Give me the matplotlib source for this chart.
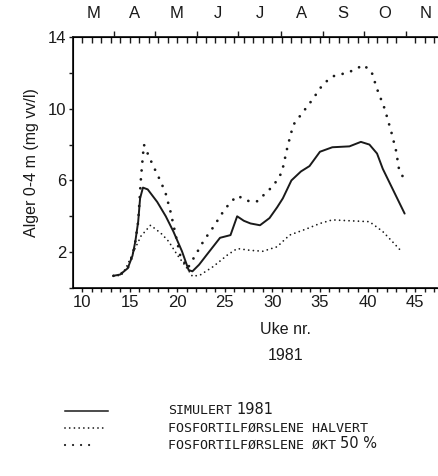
import matplotlib
matplotlib.use("Agg")
import matplotlib.pyplot as plt
import numpy as np

# ---- data ----
weeks_sim = [13.3, 14.0, 14.8, 15.3, 15.6, 15.9, 16.1, 16.4, 16.9, 17.9, 18.8, 19.6, 20.5, 21.2, 21.6,
             22.3, 23.1, 24.5, 25.6, 26.3, 27.0, 27.7, 28.7, 29.7, 30.5, 31.1, 32.0, 33.0, 33.9,
             35.0, 36.3, 38.1, 39.3, 40.2, 41.0, 41.6, 43.9]
sim = [0.68, 0.75, 1.1, 1.8, 2.6, 3.7, 5.0, 5.6, 5.5, 4.8, 4.0, 3.15, 2.05, 1.0, 0.93,
       1.3, 1.85, 2.8, 2.95, 4.0, 3.75, 3.6, 3.5, 3.9, 4.5, 5.0, 6.0, 6.5, 6.8,
       7.6, 7.85, 7.9, 8.15, 8.0, 7.5, 6.65, 4.15]

weeks_up = [13.3, 14.0, 14.8, 15.3, 15.6, 15.9, 16.2, 16.5, 16.9, 17.4, 18.3, 18.8, 19.3, 19.8,
            20.3, 21.1, 22.1, 22.8, 23.8, 24.7, 25.6, 26.4, 27.1, 28.0, 28.5, 29.2, 30.1,
            31.0, 31.6, 32.2, 33.2, 34.2, 35.3, 36.3, 37.8, 38.8, 39.5, 40.4, 41.0, 41.8,
            42.5, 43.0, 43.3, 43.9]
up = [0.68, 0.75, 1.1, 1.8, 2.6, 3.7, 6.2, 8.0, 7.5, 6.9, 5.9, 5.25, 4.25, 3.05,
      1.85, 1.1, 2.0, 2.65, 3.4, 4.15, 4.8, 5.15, 4.9, 4.8, 4.85, 5.25, 5.7,
      6.45, 7.9, 9.1, 9.8, 10.5, 11.35, 11.8, 12.0, 12.2, 12.45, 12.1, 11.1, 10.0,
      8.7, 7.65, 6.65, 6.0]

weeks_lo = [13.3, 14.1, 14.6, 15.3, 16.2, 17.2, 18.3, 19.1, 20.0, 20.9, 21.6, 22.4, 23.8, 25.3,
            26.3, 27.7, 29.0, 30.5, 31.8, 33.6, 35.0, 36.3, 38.1, 40.2, 41.6, 43.3, 43.6]
lo = [0.68, 0.7, 1.1, 1.9, 2.9, 3.5, 3.05, 2.6, 1.85, 1.2, 0.65, 0.72, 1.2, 1.85,
      2.2, 2.1, 2.05, 2.3, 2.95, 3.3, 3.6, 3.8, 3.75, 3.7, 3.15, 2.2, 2.0]

month_labels = ["M", "A", "M", "J", "J", "A", "S", "O", "N"]
month_starts = [9.0, 13.4, 17.7, 22.1, 26.4, 30.9, 35.3, 39.6, 44.0, 48.3]

xticks = [10, 15, 20, 25, 30, 35, 40, 45]
yticks_labeled = [2, 6, 10, 14]

legend_labels = ["SIMULERT", "FOSFORTILFØRSLENE HALVERT", "FOSFORTILFØRSLENE ØKT"]
legend_suffix = ["1981", "", "50 %"]

# ---- figure ----
plt.rcParams['font.family'] = ['Liberation Sans', 'DejaVu Sans']
fig = plt.figure(figsize=(4.39, 4.76), dpi=100)
ax = fig.add_axes([73/439, 1-288/476, (437-73)/439, (288-37)/476])

ink = "#1a1a1a"
ax.plot(weeks_sim, sim, color=ink, lw=1.4, solid_capstyle='round')
ax.plot(weeks_up, up, color=ink, lw=2.0, linestyle=(0, (0.01, 3.2)), dash_capstyle='round')
ax.plot(weeks_lo, lo, color=ink, lw=1.3, linestyle=(0, (0.01, 2.6)), dash_capstyle='round')

ax.set_xlim(9.05, 47.3)
ax.set_ylim(0, 14)
ax.spines['right'].set_visible(False)
for s in ['left', 'bottom', 'top']:
    ax.spines[s].set_linewidth(1.3)
    ax.spines[s].set_color(ink)

ax.set_xticks(xticks)
ax.set_xticks(np.arange(10, 48, 1), minor=True)
ax.tick_params(axis='x', which='both', direction='out', length=3, width=1, colors=ink,
               labelsize=12, pad=2)
ax.set_yticks(np.arange(0, 15, 2))
ax.set_yticklabels([str(v) if v in yticks_labeled else "" for v in range(0, 15, 2)])
ax.tick_params(axis='y', direction='out', length=3, width=1, colors=ink, labelsize=12, pad=2)

# top axis: month boundaries (out) + weekly (in)
ax2 = ax.twiny()
ax2.set_xlim(ax.get_xlim())
ax2.spines['right'].set_visible(False)
ax2.set_xticks(month_starts[1:-1])
ax2.set_xticklabels([])
ax2.set_xticks(np.arange(10, 48, 1), minor=True)
ax2.tick_params(axis='x', which='major', direction='out', length=4, width=1, colors=ink)
ax2.tick_params(axis='x', which='minor', direction='in', length=4, width=1, colors=ink)
for lab, a, b in zip(month_labels, month_starts[:-1], month_starts[1:]):
    ax.text((a + b) / 2, 1.0 + 23/251, lab, transform=ax.get_xaxis_transform(),
            ha='center', va='center', fontsize=12, color=ink)

ax.set_ylabel("Alger 0-4 m (mg vv/l)", fontsize=11.5, color=ink, labelpad=6)
fig.text(286/439, 1-330/476, "Uke nr.", ha='center', va='center', fontsize=11.5, color=ink)
fig.text(286/439, 1-356/476, "1981", ha='center', va='center', fontsize=11.5, color=ink)

# legend (drawn manually below the plot)
lax = fig.add_axes([0, 0, 1, 1], facecolor='none')
lax.set_xlim(0, 439)
lax.set_ylim(476, 0)
lax.axis('off')
rows_y = [411, 428, 445]
lax.plot([65, 108], [rows_y[0]] * 2, color=ink, lw=1.1)
lax.plot([65, 107], [rows_y[1]] * 2, color=ink, lw=1.3, linestyle=(0, (0.01, 2.6)), dash_capstyle='round')
lax.plot([65, 97], [rows_y[2]] * 2, color=ink, lw=1.6, linestyle=(0, (0.01, 3.6)), dash_capstyle='round')
lfont = dict(family=['DejaVu Sans Mono'], fontsize=9.6, color=ink, va='center', ha='left')
renderer = fig.canvas.get_renderer()
for lbl, suf, yy in zip(legend_labels, legend_suffix, rows_y):
    t = lax.text(168, yy, lbl, **lfont)
    if suf:
        bb = t.get_window_extent(renderer=renderer)
        xs = bb.x1 + 4
        fig.text(xs / 439, 1 - (yy - 1) / 476, suf, family=['DejaVu Sans'], fontsize=10.5,
                 color=ink, va='center', ha='left')

fig.savefig("out.png", dpi=100)
